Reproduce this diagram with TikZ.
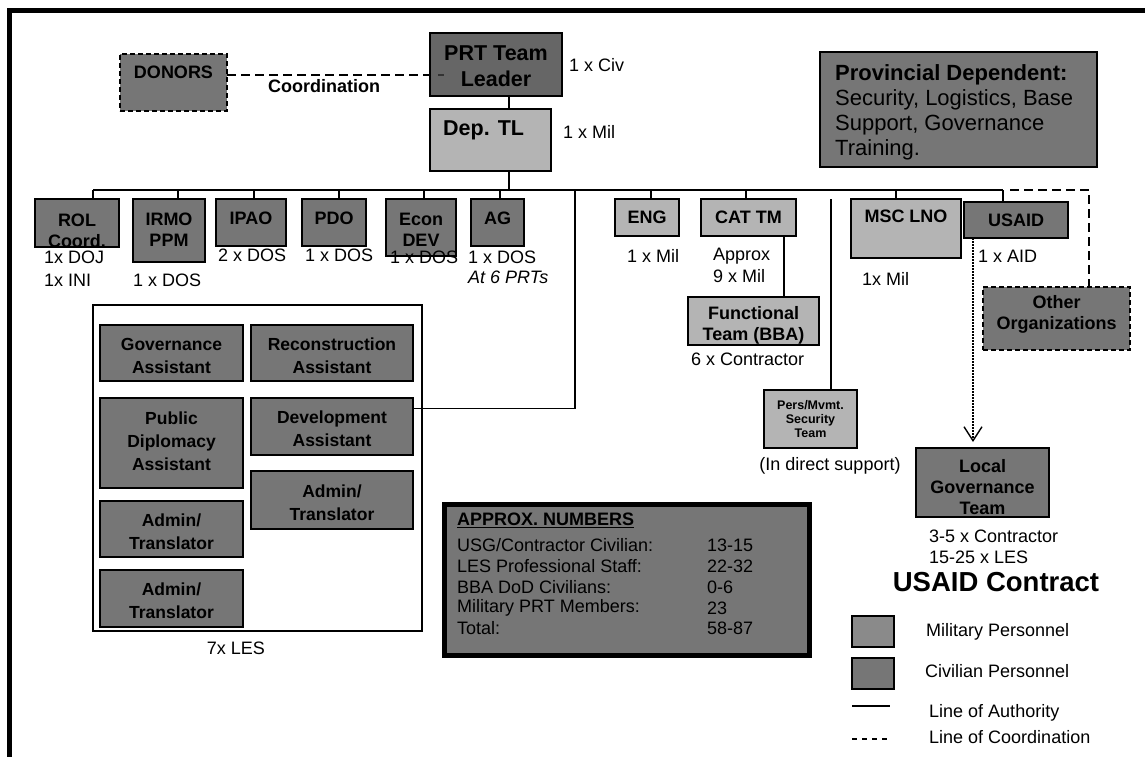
\documentclass[tikz,border=0pt]{standalone}
\usepackage{fontspec}
\setmainfont{Liberation Sans}
\usetikzlibrary{arrows.meta}
\definecolor{milgray}{HTML}{B4B4B4}
\definecolor{civgray}{HTML}{767676}
\definecolor{leadgray}{HTML}{666666}
\definecolor{legmil}{HTML}{8A8A8A}
\newcommand\bxn[6]{\node[#2, anchor=north west, minimum width={#5pt-#3pt}, minimum height={#6pt-#4pt}] (#1) at (#3,#4) {};}
\begin{document}
\begin{tikzpicture}[x=1pt, y=-1pt,
  box/.style={draw=black, line width=1.6pt, inner sep=0pt, outer sep=0pt},
  civ/.style={box, fill=civgray},
  mil/.style={box, fill=milgray},
  lead/.style={box, fill=leadgray},
  civd/.style={civ, dash pattern=on 5pt off 3pt},
  plainbox/.style={box, line width=1.3pt, fill=white},
  approxbox/.style={box, line width=5pt, fill=civgray},
  legmilbox/.style={box, fill=legmil},
  bt/.style={font=\bfseries\fontsize{18}{21}\selectfont, align=center, inner sep=0pt},
  bbig/.style={font=\bfseries\fontsize{21.5}{26}\selectfont, align=center, inner sep=0pt},
  bles/.style={font=\bfseries\fontsize{17.5}{23}\selectfont, align=center, inner sep=0pt},
  tx/.style={font=\fontsize{18}{21}\selectfont, inner sep=0pt, anchor=west},
  conn/.style={line width=1.3pt},
  coordline/.style={line width=1.3pt, dash pattern=on 9pt off 5pt},
]
\useasboundingbox (0,0) rectangle (1145,757);
\fill[white] (0,0) rectangle (1145,757);
% frame
\draw[line width=4.5pt] (9.5,757) -- (9.5,10.5) -- (1145,10.5);

% boxes
\bxn{donors}{civd}{120}{54}{227}{111}
\bxn{prt}{lead}{430}{33}{562}{96}
\bxn{dep}{mil}{430}{109}{551}{171}
\bxn{prov}{civ}{820}{52}{1097}{167}
\bxn{rol}{civ}{35}{199}{119}{247}
\bxn{irmo}{civ}{133}{199}{205}{262}
\bxn{ipao}{civ}{216}{199}{286}{246}
\bxn{pdo}{civ}{302}{199}{366}{246}
\bxn{econ}{civ}{386}{199}{456}{256}
\bxn{ag}{civ}{471}{199}{524}{246}
\bxn{eng}{mil}{615}{199}{679}{236}
\bxn{cat}{mil}{701}{199}{796}{236}
\bxn{msc}{mil}{851}{199}{961}{258}
\bxn{usaid}{civ}{964}{202}{1068}{238}
\bxn{other}{civd}{983}{287}{1130}{350}
\bxn{func}{mil}{688}{297}{819}{345}
\bxn{pers}{mil}{764}{390}{857}{448}
\bxn{lgt}{civ}{916}{448}{1049}{517}
\bxn{les}{plainbox}{93}{305}{422}{631}
\bxn{gov}{civ}{100}{325}{243}{381}
\bxn{rec}{civ}{251}{325}{413}{381}
\bxn{pub}{civ}{100}{398}{243}{488}
\bxn{dev}{civ}{251}{398}{413}{455}
\bxn{admr}{civ}{251}{471}{413}{529}
\bxn{adma}{civ}{100}{501}{243}{557}
\bxn{admb}{civ}{100}{570}{243}{627}
\bxn{approx}{approxbox}{444.5}{504.5}{809.5}{655.5}
\bxn{legm}{legmilbox}{852}{616}{894}{647}
\bxn{legc}{civ}{852}{658}{894}{689}

% connectors
\draw[coordline] (donors.east |- 0,75) -- (prt.west |- 0,75);
\draw[gray!40!black, line width=1.3pt] (438,75) -- (444,75);
\draw[conn] (509,0 |- prt.south) -- (509,0 |- dep.north);
\draw[conn] (509,0 |- dep.south) -- (509,190);
\coordinate (busL) at (93,190);
\coordinate (busR) at (1003,190);
\draw[conn] (busL) -- (busR);
\foreach \n/\x in {rol/93, irmo/178, ipao/254, pdo/339, econ/424, ag/500, eng/651, cat/746, msc/896, usaid/1003}
  \draw[conn] (\x,190) -- (\x,0 |- \n.north);
\draw[conn] (575,190) -- (575,408.5) -- (dev.east |- 0,408.5);
\draw[conn] (784,0 |- cat.south) -- (784,0 |- func.north);
\draw[conn] (831,199) -- (831,0 |- pers.north);
\draw[coordline] (1010,190) -- (1089,190) -- (1089,0 |- other.north);
\draw[line width=1.5pt, dash pattern=on 1.5pt off 1.5pt, -{Straight Barb[length=14pt, width=18pt, line width=1.4pt]}, shorten >=6pt] (973,0 |- usaid.south) -- (973,0 |- lgt.north);

% texts in boxes
\node[bt] (donorsT) at (173.5,72) {DONORS};
\node[bt] (coordT) at (324,86) {Coordination};
\node[bbig] (prtT) at (496,66) {PRT Team\\Leader};
\node[bbig, anchor=west] (depT) at (443,130) {Dep. TL};
\node[font=\fontsize{22}{25}\selectfont, align=left, inner sep=0pt, anchor=north west] (provT) at (835,64)
  {\textbf{Provincial Dependent:}\\Security, Logistics, Base\\Support, Governance\\Training.};
\node[bt] (rolT) at (77,230.5) {ROL\\Coord.};
\node[bt] (irmoT) at (169,229.5) {IRMO\\PPM};
\node[bt] (ipaoT) at (251,218) {IPAO};
\node[bt] (pdoT) at (334,218) {PDO};
\node[bt] (econT) at (421,230) {Econ\\DEV};
\node[bt] (agT) at (497.5,218) {AG};
\node[bt] (engT) at (647,217) {ENG};
\node[bt] (catT) at (748.5,217) {CAT TM};
\node[bt] (mscT) at (906,216) {MSC LNO};
\node[bt] (usaidT) at (1016,220) {USAID};
\node[bt] (otherT) at (1056.5,314.5) {Other\\Organizations};
\node[bt] (funcT) at (753.5,325) {Functional\\Team (BBA)};
\node[font=\bfseries\fontsize{12.5}{14}\selectfont, align=center, inner sep=0pt] (persT) at (810.5,419) {Pers/Mvmt.\\Security\\Team};
\node[bt] (lgtT) at (982.5,487) {Local\\Governance\\Team};
\node[bles] (govT) at (171.5,356) {Governance\\Assistant};
\node[bles] (recT) at (332,356) {Reconstruction\\Assistant};
\node[bles] (pubT) at (171.5,441) {Public\\Diplomacy\\Assistant};
\node[bles] (devT) at (332,429) {Development\\Assistant};
\node[bles] (admrT) at (332,502.5) {Admin/\\Translator};
\node[bles] (admaT) at (171.5,531.5) {Admin/\\Translator};
\node[bles] (admbT) at (171.5,600.5) {Admin/\\Translator};

% texts outside boxes
\node[tx] (civT) at (569,65) {1 x Civ};
\node[tx] (milT) at (563,132) {1 x Mil};
\node[tx] (rolA) at (44,257) {1x DOJ};
\node[tx] (rolB) at (44,280) {1x INI};
\node[tx] (irmoA) at (133,280) {1 x DOS};
\node[tx] (ipaoA) at (218,255) {2 x DOS};
\node[tx] (pdoA) at (305,255) {1 x DOS};
\node[tx] (econA) at (390,257) {1 x DOS};
\node[tx] (agA) at (468,257) {1 x DOS};
\node[tx, font=\itshape\fontsize{18}{21}\selectfont] (agB) at (468,277) {At 6 PRTs};
\node[tx] (engA) at (627,256) {1 x Mil};
\node[tx] (catA) at (713,256) {Approx};
\node[tx] (catB) at (713,276) {9 x Mil};
\node[tx] (mscA) at (862,279) {1x Mil};
\node[tx] (usaidA) at (978,256) {1 x AID};
\node[tx] (funcA) at (691,359) {6 x Contractor};
\node[tx, anchor=center] (persA) at (830,466) {(In direct support)};
\node[tx] (lgtA) at (929,536) {3-5 x Contractor};
\node[tx] (lgtB) at (929,557) {15-25 x LES};
\node[font=\bfseries\fontsize{27.5}{30}\selectfont, inner sep=0pt] (usaidC) at (996,582) {USAID Contract};
\node[tx, anchor=center] (lesT) at (236,648) {7x LES};

% approx numbers
\node[tx, font=\bfseries\fontsize{18}{21}\selectfont] (apH) at (457,520) {\underline{APPROX. NUMBERS}};
\node[tx] (ap1) at (457,545) {USG/Contractor Civilian:};
\node[tx] (ap2) at (457,566) {LES Professional Staff:};
\node[tx] (ap3) at (457,587) {BBA DoD Civilians:};
\node[tx] (ap4) at (457,608) {Military PRT Members:};
\node[tx] (ap5) at (457,628) {Total:};
\node[tx] (av1) at (707,545) {13-15};
\node[tx] (av2) at (707,566) {22-32};
\node[tx] (av3) at (707,587) {0-6};
\node[tx] (av4) at (707,608) {23};
\node[tx] (av5) at (707,628) {58-87};

% legend
\node[tx] (lgm) at (926,632) {Military Personnel};
\node[tx] (lgc) at (925,671) {Civilian Personnel};
\coordinate (la1) at (852,706);
\coordinate (la2) at (890,706);
\coordinate (lc1) at (852,739);
\coordinate (lc2) at (890,739);
\draw[conn] (la1) -- (la2);
\draw[conn, dash pattern=on 5pt off 5pt] (lc1) -- (lc2);
\node[tx] (lga) at (929,713) {Line of Authority};
\node[tx] (lgd) at (929,737) {Line of Coordination};
\end{tikzpicture}
\end{document}
